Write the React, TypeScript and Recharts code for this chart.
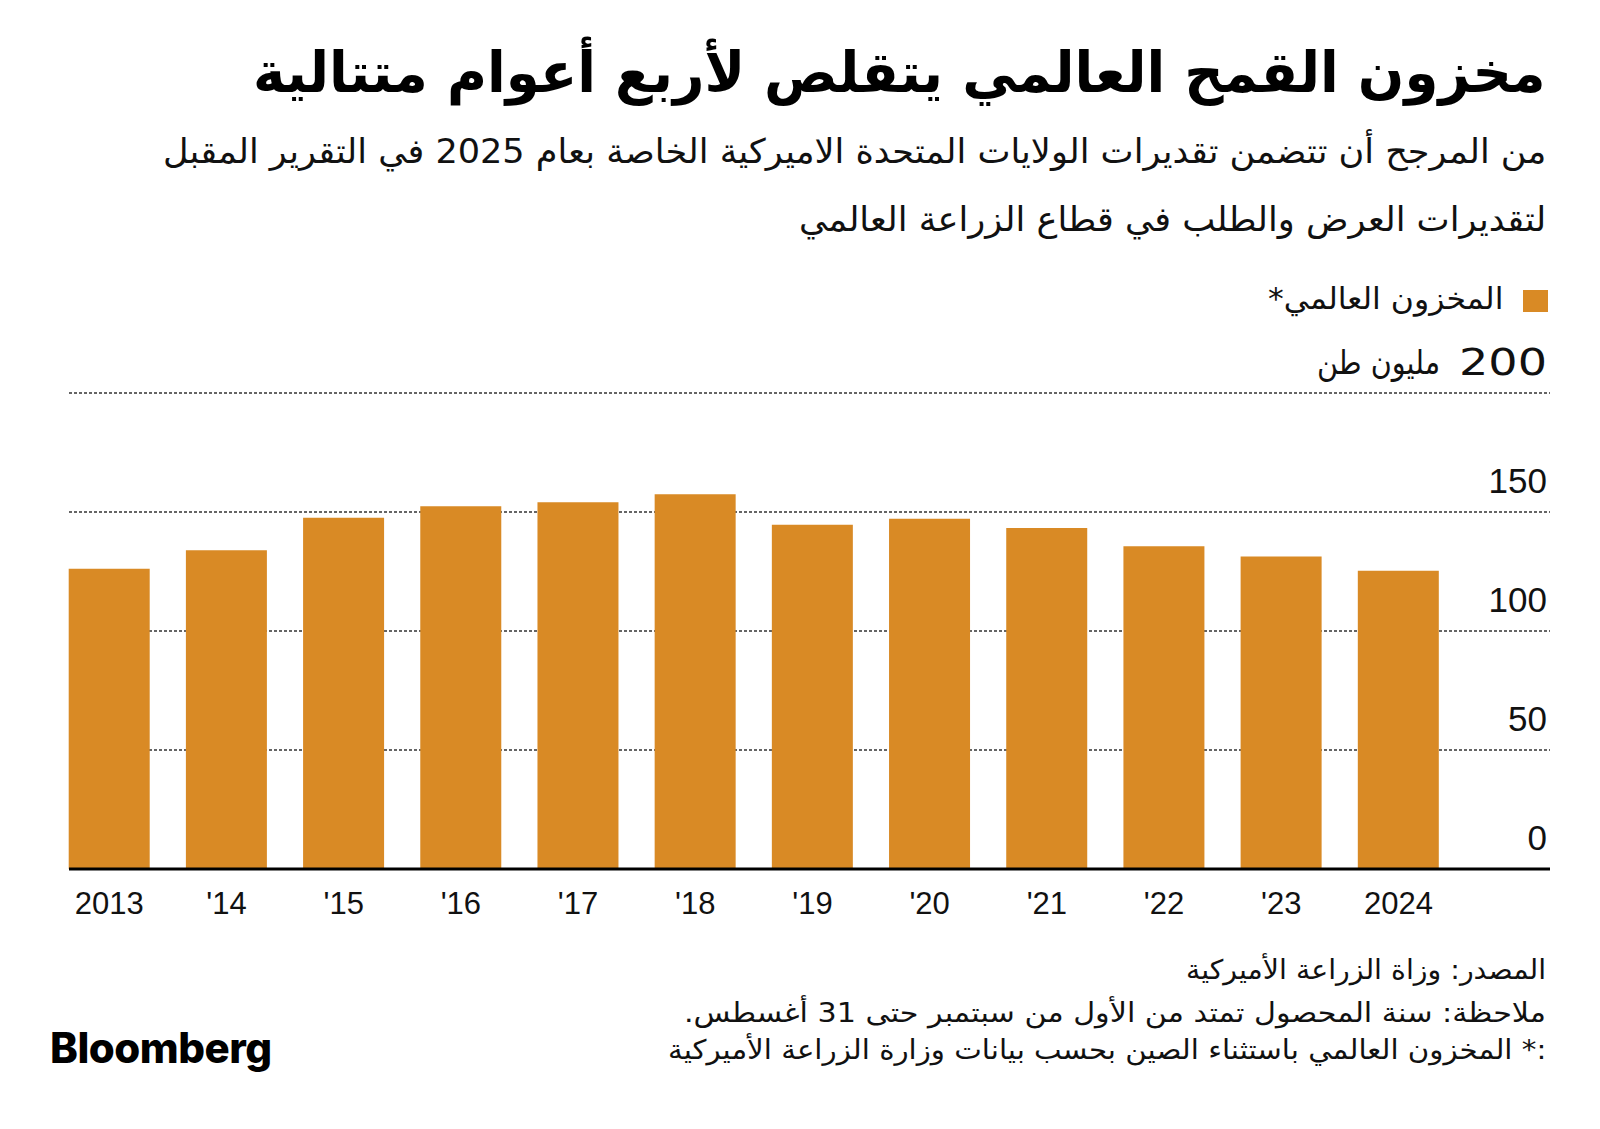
import React, { useLayoutEffect, useRef, useState } from "react";
import { BarChart, Bar, XAxis, YAxis, CartesianGrid } from "recharts";

const years = ["2013", "'14", "'15", "'16", "'17", "'18", "'19", "'20", "'21", "'22", "'23", "2024"];
const stocks = [126.2, 133.9, 147.6, 152.4, 154.1, 157.5, 144.6, 147.2, 143.3, 135.6, 131.3, 125.3];
const yTicks = [0, 50, 100, 150, 200];
const yUnit = "مليون طن";

const title = "مخزون القمح العالمي يتقلص لأربع أعوام متتالية";
const subtitle1 = "من المرجح أن تتضمن تقديرات الولايات المتحدة الاميركية الخاصة بعام 2025 في التقرير المقبل";
const subtitle2 = "لتقديرات العرض والطلب في قطاع الزراعة العالمي";
const legendLabel = "المخزون العالمي*";
const source = "المصدر: وزاة الزراعة الأميركية";
const note = "ملاحظة: سنة المحصول تمتد من الأول من سبتمبر حتى 31 أغسطس.";
const footnote = ":* المخزون العالمي باستثناء الصين بحسب بيانات وزارة الزراعة الأميركية";

const data = years.map((year, i) => ({ year, value: stocks[i] }));

const BAR = "#D98A25";
const AR = "'DejaVu Sans', sans-serif";
const LAT = "'Liberation Sans', Arial, sans-serif";

function FitText(props: { text: string; right: number; cy: number; width: number; size: number; weight?: number; color?: string }) {
  const { text, right, cy, width, size, weight = 400, color = "#111" } = props;
  const ref = useRef<HTMLSpanElement>(null);
  const [s, setS] = useState(1);
  useLayoutEffect(() => {
    if (ref.current) {
      const w = ref.current.offsetWidth;
      if (w > 0) setS(width / w);
    }
  }, [text, width]);
  return (
    <div style={{ position: "absolute", right, top: cy - size, height: size * 2, display: "flex", alignItems: "center", justifyContent: "flex-end", whiteSpace: "nowrap" }}>
      <span ref={ref} dir="rtl" style={{ display: "inline-block", fontSize: size, fontWeight: weight, fontFamily: AR, color, lineHeight: 1, transform: `scaleX(${s})`, transformOrigin: "right center" }}>
        {text}
      </span>
    </div>
  );
}

const XTick = (p: any) => {
  const { x, y, payload } = p;
  return (
    <text x={x} y={y + 34} textAnchor="middle" dominantBaseline="central" fontSize={31} fontFamily={LAT} fill="#111">
      {payload.value}
    </text>
  );
};

const YTick = (p: any) => {
  const { y, payload } = p;
  const xr = 1547;
  if (payload.value === 200) {
    return (
      <g>
        <text x={xr} y={y - 31} textAnchor="end" dominantBaseline="central" fontSize={38} fontFamily={AR} fill="#111" textLength={88} lengthAdjust="spacingAndGlyphs">
          200
        </text>
        <text x={xr - 107} y={y - 31} textAnchor="end" dominantBaseline="central" fontSize={33} fontFamily={AR} fill="#111" textLength={123} lengthAdjust="spacingAndGlyphs">
          {yUnit}
        </text>
      </g>
    );
  }
  return (
    <text x={xr} y={y - 32} textAnchor="end" dominantBaseline="central" fontSize={35} fontFamily={LAT} fill="#111">
      {payload.value}
    </text>
  );
};

export default function App() {
  return (
    <div style={{ position: "absolute", left: 0, top: 0, width: 1600, height: 1129, background: "#fff", overflow: "hidden" }}>
      <FitText text={title} right={54} cy={73} width={1293} size={56} weight={700} color="#000" />
      <FitText text={subtitle1} right={54} cy={151} width={1383} size={34} />
      <FitText text={subtitle2} right={54} cy={219} width={747} size={34} />

      <div style={{ position: "absolute", left: 1523, top: 290, width: 25, height: 22, background: BAR }} />
      <FitText text={legendLabel} right={97} cy={299} width={235} size={30} />

      <div style={{ position: "absolute", left: 0, top: 0 }}>
        <BarChart width={1600} height={930} data={data} margin={{ top: 393, right: 0, left: 69, bottom: 21 }}>
          <CartesianGrid vertical={false} stroke="#333" strokeDasharray="3 2" strokeWidth={1.5} />
          <XAxis
            dataKey="year"
            height={40}
            interval={0}
            tickLine={false}
            tickSize={0}
            tickMargin={0}
            axisLine={{ stroke: "#000", strokeWidth: 3 }}
            padding={{ left: -18.3, right: 93 }}
            tick={<XTick />}
          />
          <YAxis
            orientation="right"
            width={50}
            domain={[0, 200]}
            ticks={yTicks}
            interval={0}
            axisLine={false}
            tickLine={false}
            tick={<YTick />}
          />
          <Bar dataKey="value" fill={BAR} barSize={81} isAnimationActive={false} />
        </BarChart>
      </div>

      <FitText text={source} right={54} cy={969} width={360} size={27} />
      <FitText text={note} right={54} cy={1012} width={862} size={27} />
      <FitText text={footnote} right={54} cy={1049} width={878} size={27} />

      <div style={{ position: "absolute", left: 50, top: 1020, fontFamily: "Inter, 'Liberation Sans', sans-serif", fontWeight: 800, fontSize: 42, letterSpacing: -0.5, color: "#000", lineHeight: "56px" }}>
        Bloomberg
      </div>
    </div>
  );
}
